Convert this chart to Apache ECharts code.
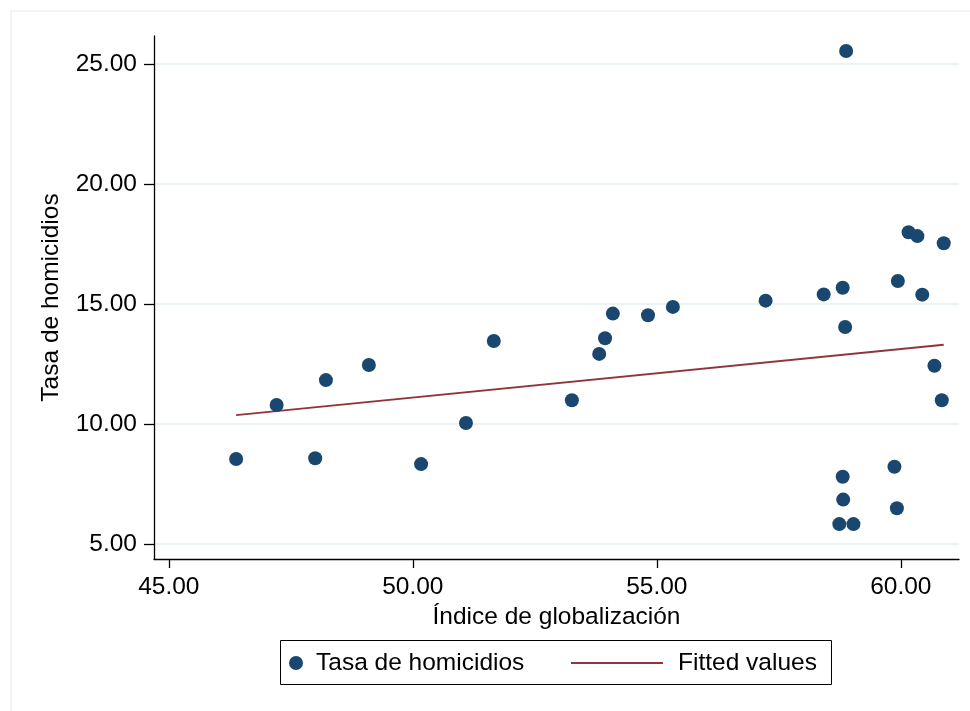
<!DOCTYPE html>
<html>
<head>
<meta charset="utf-8">
<script src="https://cdn.jsdelivr.net/npm/echarts@6/dist/echarts.min.js"></script>
<style>html,body{margin:0;padding:0;background:#fff}#c{width:970px;height:711px}</style>
</head>
<body>
<div id="c"></div>
<script>
var globalIndex = [46.38, 47.21, 48.00, 48.22, 49.10, 50.17, 51.09, 51.66, 53.26, 53.82, 53.94, 54.10, 54.82, 55.33, 57.23, 58.42, 58.81, 58.86, 58.88, 59.94, 60.16, 60.34, 60.88, 60.44, 60.69, 60.84, 58.81, 58.82, 58.74, 59.03, 59.87, 59.92];
var homicideRate = [8.54, 10.79, 8.57, 11.83, 12.46, 8.33, 10.04, 13.46, 10.99, 12.92, 13.57, 14.60, 14.53, 14.88, 15.14, 15.40, 15.68, 14.04, 25.54, 15.96, 17.99, 17.83, 17.53, 15.39, 12.43, 10.99, 7.80, 6.85, 5.83, 5.83, 8.22, 6.49];
var fittedX = [46.38, 60.88];
var fittedY = [10.37, 13.30];
var xTicks = [45, 50, 55, 60];
var yTicks = [5, 10, 15, 20, 25];

var scatterData = globalIndex.map(function (x, i) { return [x, homicideRate[i]]; });
var fittedData = fittedX.map(function (x, i) { return [x, fittedY[i]]; });

var FONT = "'Liberation Sans', Arial, sans-serif";
var FS = 24.5;
var chart = echarts.init(document.getElementById('c'), null, {renderer: 'canvas'});
chart.setOption({
  backgroundColor: '#ffffff',
  animation: false,
  textStyle: {fontFamily: FONT},
  graphic: [
    {type: 'rect', shape: {x: 11, y: 11, width: 980, height: 760}, style: {fill: 'none', stroke: '#eaf2f3', lineWidth: 1.5}, z: -10},
    {type: 'rect', shape: {x: 280.5, y: 640.5, width: 551, height: 44}, style: {fill: 'none', stroke: '#000', lineWidth: 1}}
  ],
  grid: {left: 154, right: 11, top: 36, bottom: 152, containLabel: false},
  xAxis: {
    type: 'value', min: 44.697, max: 61.193,
    name: 'Índice de globalización', nameLocation: 'middle', nameGap: 38,
    nameTextStyle: {fontFamily: FONT, fontSize: FS, color: '#000'},
    axisLine: {show: true, onZero: false, lineStyle: {color: '#000', width: 1.3}},
    axisTick: {show: true, length: 9, customValues: xTicks, lineStyle: {color: '#000', width: 1.3}},
    axisLabel: {customValues: xTicks, margin: 16, fontFamily: FONT, fontSize: FS, color: '#000', formatter: function (v) { return v.toFixed(2); }},
    splitLine: {show: false}
  },
  yAxis: {
    type: 'value', min: 4.375, max: 26.167,
    name: 'Tasa de homicidios', nameLocation: 'middle', nameGap: 90, nameRotate: 90,
    nameTextStyle: {fontFamily: FONT, fontSize: FS, color: '#000'},
    axisLine: {show: true, onZero: false, lineStyle: {color: '#000', width: 1.3}},
    axisTick: {show: true, length: 10, customValues: yTicks, lineStyle: {color: '#000', width: 1.3}},
    axisLabel: {customValues: yTicks, margin: 17, fontFamily: FONT, fontSize: FS, color: '#000', formatter: function (v) { return v.toFixed(2); }},
    splitLine: {show: true, lineStyle: {color: '#eaf2f3', width: 2}}
  },
  legend: [
    {
      data: ['Tasa de homicidios'], left: 289, top: 650, padding: 0,
      itemWidth: 30, itemHeight: 14,
      textStyle: {fontFamily: FONT, fontSize: FS, color: '#000', lineHeight: 26}
    },
    {
      data: [{name: 'Fitted values', icon: 'rect'}], left: 571, top: 650, padding: 0,
      itemWidth: 92, itemHeight: 2,
      itemStyle: {color: '#90353b'},
      textStyle: {fontFamily: FONT, fontSize: FS, color: '#000', lineHeight: 26, padding: [0, 0, 0, 10]}
    }
  ],
  series: [
    {
      name: 'Tasa de homicidios', type: 'scatter', data: scatterData,
      symbol: 'circle', symbolSize: 14,
      itemStyle: {color: '#1a476f', opacity: 1}, z: 3
    },
    {
      name: 'Fitted values', type: 'line', data: fittedData,
      symbol: 'none', lineStyle: {color: '#90353b', width: 2}, itemStyle: {color: '#90353b'}, z: 2
    }
  ]
});
</script>
</body>
</html>
